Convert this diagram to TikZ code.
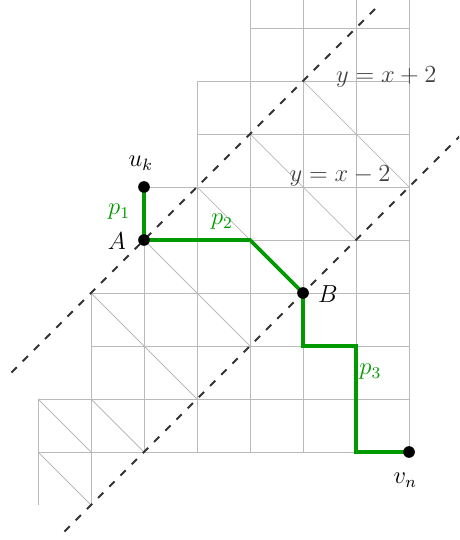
\documentclass[tikz,border=0pt]{standalone}
\usepackage{amsmath}
\begin{document}
\begin{tikzpicture}[x=1cm,y=1cm,
  gridline/.style={draw=black!27,line width=0.5pt},
  diagline/.style={draw=black!27,line width=0.4pt},
  diagonalcut/.style={draw=black!80,line width=1pt,dash pattern=on 4pt off 4.5pt},
  greenpath/.style={draw=green!60!black,line width=2pt},
  dot/.style={circle,fill=black,inner sep=0pt,minimum size=0.22cm},
  lab/.style={font=\large,inner sep=0pt,scale=1.1,transform shape},
  glab/.style={lab,text=green!60!black},
  eqlab/.style={lab,text=black!75}]
\useasboundingbox (-0.717,-0.660) rectangle (7.943,9.528);
\clip (-0.717,-0.660) rectangle (7.943,9.528);
% vertical grid lines
\draw[gridline] (0,0) -- (0,2);
\draw[gridline] (1,0) -- (1,4);
\draw[gridline] (2,1) -- (2,6);
\draw[gridline] (3,1) -- (3,8);
\foreach \i in {4,5,6,7} \draw[gridline] (\i,1) -- (\i,9.7);
% horizontal grid lines
\draw[gridline] (0,1) -- (7,1);
\draw[gridline] (0,2) -- (7,2);
\draw[gridline] (1,3) -- (7,3);
\draw[gridline] (1,4) -- (7,4);
\draw[gridline] (2,5) -- (7,5);
\draw[gridline] (2,6) -- (7,6);
\draw[gridline] (3,7) -- (7,7);
\draw[gridline] (3,8) -- (7,8);
\draw[gridline] (4,9) -- (7,9);
% diagonals
\draw[diagline] (5,8) -- (7,6);
\draw[diagline] (4,7) -- (6,5);
\draw[diagline] (3,6) -- (4,5);
\draw[diagline] (2,5) -- (4,3);
\draw[diagline] (1,4) -- (3,2);
\draw[diagline] (0,2) -- (1,1);
\draw[diagline] (1,2) -- (2,1);
\draw[diagline] (0,1) -- (1,0);
% dashed lines
\coordinate (d1s) at (-0.5,2.5);
\coordinate (d1e) at (6.45,9.45);
\coordinate (d2s) at (0.5,-0.5);
\coordinate (d2e) at (8.5,7.5);
\draw[diagonalcut] (d1s) -- (d1e);
\draw[diagonalcut] (d2s) -- (d2e);
% path points
\coordinate (uk) at (2,6);
\coordinate (A) at (2,5);
\coordinate (c1) at (4,5);
\coordinate (B) at (5,4);
\coordinate (c2) at (5,3);
\coordinate (c3) at (6,3);
\coordinate (c4) at (6,1);
\coordinate (vn) at (7,1);
\draw[greenpath] (uk) -- (A) -- (c1) -- (B) -- (c2) -- (c3) -- (c4) -- (vn);
\node[dot] (ukdot) at (uk) {};
\node[dot] (Adot) at (A) {};
\node[dot] (Bdot) at (B) {};
\node[dot] (vndot) at (vn) {};
% labels
\node[lab] (ukl) at (1.94,6.45) {$u_k$};
\node[lab] (Al) at (1.49,4.98) {$A$};
\node[lab] (Bl) at (5.47,3.98) {$B$};
\node[lab] (vnl) at (6.93,0.47) {$v_n$};
\node[glab] (p1) at (1.53,5.53) {$p_1$};
\node[glab] (p2) at (3.47,5.34) {$p_2$};
\node[glab] (p3) at (6.27,2.51) {$p_3$};
\node[eqlab] (eq1) at (6.57,8.08) {$y=x+2$};
\node[eqlab] (eq2) at (5.70,6.21) {$y=x-2$};
\end{tikzpicture}
\end{document}
